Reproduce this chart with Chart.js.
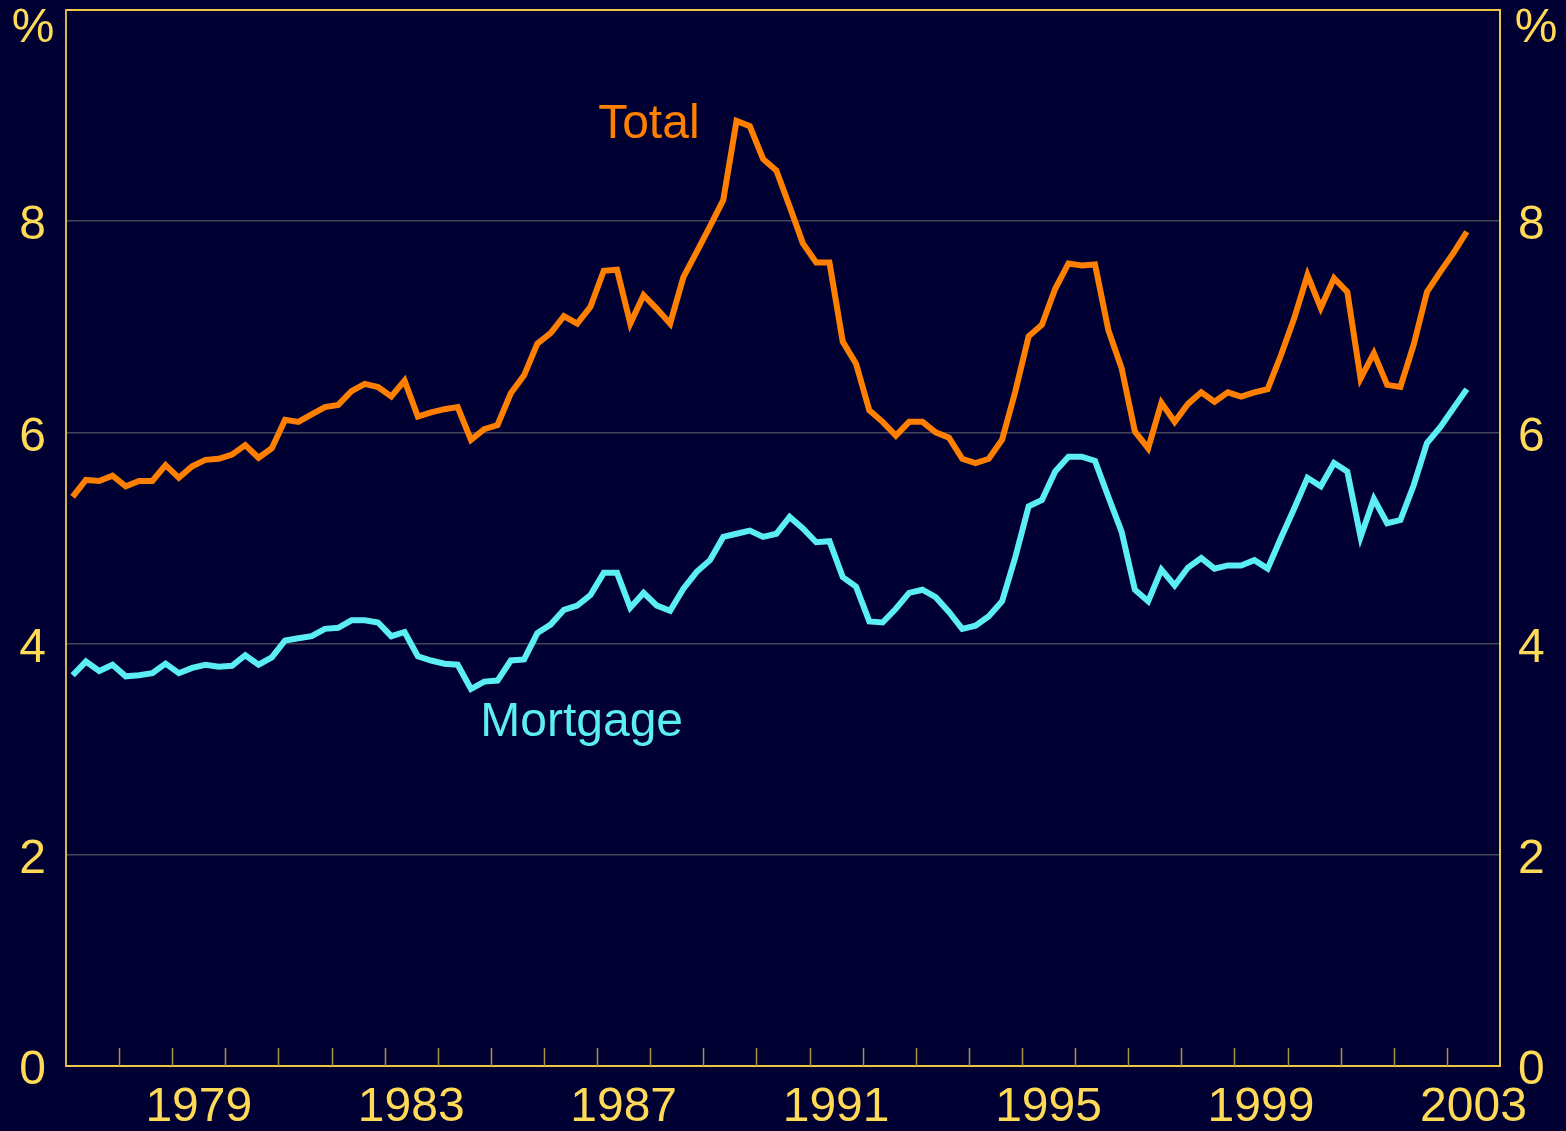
<!DOCTYPE html>
<html>
<head>
<meta charset="utf-8">
<script src="https://cdn.jsdelivr.net/npm/chart.js@4.4.1/dist/chart.umd.min.js"></script>
<style>
    html, body { margin: 0; padding: 0; background: #000033; }
    #wrap { width: 1566px; height: 1131px; }
</style>
</head>
<body>
<div id="wrap"><canvas id="debtChart"></canvas></div>
<script>
// quarterly, 1977 Q1 to 2003 Q2, per cent
const startYear = 1977;

const totalValues = [
    5.39, 5.55, 5.54, 5.59, 5.49, 5.54, 5.54, 5.69, 5.57, 5.68,
    5.74, 5.75, 5.79, 5.88, 5.76, 5.85, 6.12, 6.10, 6.17, 6.24,
    6.26, 6.39, 6.46, 6.43, 6.34, 6.49, 6.15, 6.19, 6.22, 6.24,
    5.93, 6.03, 6.07, 6.37, 6.54, 6.84, 6.94, 7.10, 7.03, 7.19,
    7.53, 7.54, 7.03, 7.30, 7.17, 7.03, 7.47, 7.71, 7.95, 8.20,
    8.95, 8.90, 8.59, 8.48, 8.14, 7.79, 7.61, 7.61, 6.86, 6.65,
    6.21, 6.10, 5.97, 6.10, 6.10, 6.00, 5.95, 5.75, 5.71, 5.75,
    5.93, 6.39, 6.91, 7.02, 7.36, 7.60, 7.58, 7.59, 6.97, 6.61,
    6.01, 5.85, 6.28, 6.10, 6.27, 6.38, 6.29, 6.38, 6.34, 6.38,
    6.41, 6.73, 7.08, 7.49, 7.18, 7.46, 7.33, 6.51, 6.75, 6.45,
    6.43, 6.83, 7.33, 7.52, 7.70, 7.90
];

const mortgageValues = [
    3.70, 3.83, 3.74, 3.80, 3.69, 3.70, 3.72, 3.81, 3.72, 3.77,
    3.80, 3.78, 3.79, 3.89, 3.80, 3.87, 4.03, 4.05, 4.07, 4.14,
    4.15, 4.22, 4.22, 4.20, 4.07, 4.11, 3.88, 3.84, 3.81, 3.80,
    3.57, 3.64, 3.65, 3.84, 3.85, 4.10, 4.18, 4.32, 4.36, 4.46,
    4.67, 4.67, 4.34, 4.48, 4.36, 4.31, 4.52, 4.68, 4.79, 5.01,
    5.04, 5.07, 5.01, 5.04, 5.20, 5.09, 4.96, 4.97, 4.63, 4.54,
    4.21, 4.20, 4.33, 4.48, 4.51, 4.44, 4.30, 4.14, 4.17, 4.26,
    4.40, 4.82, 5.30, 5.36, 5.63, 5.77, 5.77, 5.73, 5.39, 5.06,
    4.51, 4.40, 4.70, 4.55, 4.72, 4.81, 4.71, 4.74, 4.74, 4.79,
    4.71, 5.00, 5.28, 5.57, 5.49, 5.71, 5.63, 5.01, 5.37, 5.14,
    5.17, 5.50, 5.90, 6.05, 6.23, 6.41
];

const yearLabels = [1979, 1983, 1987, 1991, 1995, 1999, 2003];
const yTicks = [0, 2, 4, 6, 8];

const textColor = '#ffda57';
const axisColor = '#f0c848';
const font = { family: '"Liberation Sans", Arial, sans-serif', size: 48 };

// mid-quarter positions on a year axis
const toPoints = (vals) => vals.map((v, i) => ({ x: startYear + (i + 0.5) / 4, y: v }));

const extras = {
    id: 'extras',
    afterDatasetsDraw(chart) {
        const { ctx, chartArea, scales } = chart;
        const x = scales.x;
        const y = scales.y;

        // small year ticks sitting inside the plot on the bottom edge
        ctx.save();
        ctx.strokeStyle = '#a89245';
        ctx.lineWidth = 1.5;
        for (let yr = startYear + 1; yr < 2004; yr++) {
            const px = Math.round(x.getPixelForValue(yr)) + 0.5;
            ctx.beginPath();
            ctx.moveTo(px, chartArea.bottom);
            ctx.lineTo(px, chartArea.bottom - 18);
            ctx.stroke();
        }

        ctx.font = `${font.size}px ${font.family}`;
        ctx.textBaseline = 'middle';
        ctx.textAlign = 'center';
        ctx.fillStyle = textColor;
        ctx.fillText('%', chartArea.left - 33, chartArea.top + 19);
        ctx.fillText('%', chartArea.right + 36, chartArea.top + 19);

        ctx.textAlign = 'left';
        ctx.fillStyle = '#ff8000';
        ctx.fillText('Total', x.getPixelForValue(1987.02), y.getPixelForValue(8.91));
        ctx.fillStyle = '#5ceef5';
        ctx.fillText('Mortgage', x.getPixelForValue(1984.8), y.getPixelForValue(3.25));
        ctx.restore();
    }
};

const fitY = (scale) => {
    scale.width = 66;
    scale.paddingTop = 0;
    scale.paddingBottom = 0;
};

new Chart(document.getElementById('debtChart'), {
    type: 'line',
    data: {
        datasets: [
            {
                label: 'Total',
                data: toPoints(totalValues),
                borderColor: '#ff8000',
                borderWidth: 6,
                pointRadius: 0,
                tension: 0
            },
            {
                label: 'Mortgage',
                data: toPoints(mortgageValues),
                borderColor: '#5ceef5',
                borderWidth: 6,
                pointRadius: 0,
                tension: 0
            }
        ]
    },
    options: {
        responsive: true,
        maintainAspectRatio: false,
        animation: false,
        layout: { padding: { top: 10 } },
        plugins: {
            legend: { display: false },
            tooltip: { enabled: false }
        },
        scales: {
            x: {
                type: 'linear',
                position: 'bottom',
                min: startYear,
                max: 2004,
                afterBuildTicks: (axis) => {
                    axis.ticks = yearLabels.map(v => ({ value: v + 0.5 }));
                },
                afterFit: (scale) => { scale.height = 65; },
                ticks: {
                    autoSkip: false,
                    maxRotation: 0,
                    padding: 5,
                    color: textColor,
                    font: font,
                    callback: v => String(Math.floor(v))
                },
                grid: { display: false },
                border: { color: axisColor, width: 2 }
            },
            xTop: {
                type: 'linear',
                position: 'top',
                min: startYear,
                max: 2004,
                afterFit: (scale) => {
                    scale.height = 0;
                    scale.paddingLeft = 0;
                    scale.paddingRight = 0;
                },
                ticks: { display: false },
                grid: { display: false },
                border: { color: axisColor, width: 2 }
            },
            y: {
                position: 'left',
                min: 0,
                max: 10,
                afterBuildTicks: (axis) => {
                    axis.ticks = yTicks.map(v => ({ value: v }));
                },
                afterFit: fitY,
                ticks: {
                    padding: 20,
                    labelOffset: 5,
                    color: textColor,
                    font: font
                },
                grid: {
                    drawTicks: false,
                    lineWidth: 1.5,
                    color: ctx => ctx.tick && ctx.tick.value === 0 ? 'rgba(0,0,0,0)' : '#45455a'
                },
                border: { color: '#d6b24a', width: 2 }
            },
            y2: {
                position: 'right',
                min: 0,
                max: 10,
                afterBuildTicks: (axis) => {
                    axis.ticks = yTicks.map(v => ({ value: v }));
                },
                afterFit: fitY,
                ticks: {
                    padding: 18,
                    labelOffset: 5,
                    color: textColor,
                    font: font
                },
                grid: { display: false, drawTicks: false },
                border: { color: axisColor, width: 2 }
            }
        }
    },
    plugins: [extras]
});
</script>
</body>
</html>
